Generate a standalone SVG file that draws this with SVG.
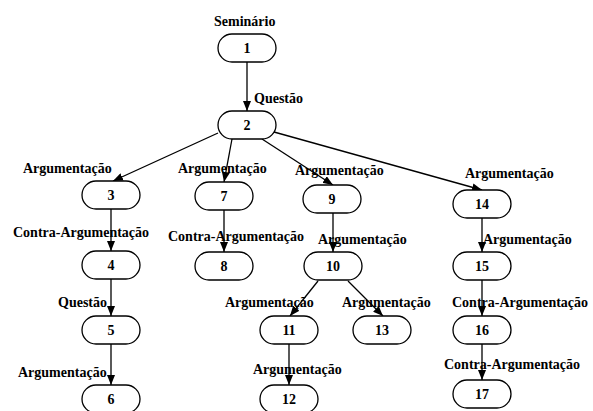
<svg xmlns="http://www.w3.org/2000/svg" width="593" height="411" viewBox="0 0 593 411">
<style>
.n rect{fill:#fff;stroke:#000;stroke-width:1.3}
text{font-family:"Liberation Serif","Times New Roman",serif;font-weight:bold;font-size:14px;fill:#000}
.c{text-anchor:middle}
.e line{stroke:#000;stroke-width:1.3;marker-end:url(#ah)}
</style>
<defs>
<marker id="ah" viewBox="0 0 10 8" refX="10" refY="4" markerWidth="10" markerHeight="8" markerUnits="userSpaceOnUse" orient="auto">
<path d="M0,0 L10,4 L0,8 Z" fill="#000"/>
</marker>
</defs>
<rect width="593" height="411" fill="#fff"/>
<g class="e" id="connectors">
<line x1="247" y1="62" x2="247" y2="111"/>
<line x1="218" y1="133" x2="113" y2="181"/>
<line x1="232" y1="139" x2="224" y2="182"/>
<line x1="262" y1="139" x2="333" y2="185"/>
<line x1="274" y1="132" x2="482" y2="190"/>
<line x1="111" y1="209" x2="111" y2="251"/>
<line x1="224" y1="210" x2="224" y2="252"/>
<line x1="333" y1="213" x2="333" y2="252"/>
<line x1="482" y1="218" x2="482" y2="252"/>
<line x1="111" y1="279" x2="111" y2="316"/>
<line x1="318" y1="281" x2="290" y2="316"/>
<line x1="348" y1="281" x2="383" y2="316"/>
<line x1="482" y1="280" x2="482" y2="316"/>
<line x1="111" y1="344" x2="111" y2="385"/>
<line x1="289" y1="344" x2="289" y2="385"/>
<line x1="482" y1="344" x2="482" y2="380"/>
</g>
<g id="edge-labels">
<text x="214" y="26">Seminário</text>
<text x="254" y="103">Questão</text>
<text x="23" y="173">Argumentação</text>
<text x="178" y="173">Argumentação</text>
<text x="295" y="175">Argumentação</text>
<text x="465" y="178">Argumentação</text>
<text x="13" y="237">Contra-Argumentação</text>
<text x="168" y="241">Contra-Argumentação</text>
<text x="318" y="244">Argumentação</text>
<text x="483" y="244">Argumentação</text>
<text x="58" y="307">Questão</text>
<text x="225" y="307">Argumentação</text>
<text x="342" y="307">Argumentação</text>
<text x="452" y="307">Contra-Argumentação</text>
<text x="18" y="377">Argumentação</text>
<text x="253" y="374">Argumentação</text>
<text x="444" y="369">Contra-Argumentação</text>
</g>
<g class="n" id="n1"><rect x="218" y="34" width="58" height="28" rx="14"/><text class="c" x="247" y="53">1</text></g>
<g class="n" id="n2"><rect x="218" y="111" width="58" height="28" rx="14"/><text class="c" x="247" y="130">2</text></g>
<g class="n" id="n3"><rect x="82" y="181" width="58" height="28" rx="14"/><text class="c" x="111" y="200">3</text></g>
<g class="n" id="n7"><rect x="195" y="182" width="58" height="28" rx="14"/><text class="c" x="224" y="201">7</text></g>
<g class="n" id="n9"><rect x="303" y="185" width="58" height="28" rx="14"/><text class="c" x="332" y="204">9</text></g>
<g class="n" id="n14"><rect x="453" y="190" width="58" height="28" rx="14"/><text class="c" x="482" y="209">14</text></g>
<g class="n" id="n4"><rect x="82" y="251" width="58" height="28" rx="14"/><text class="c" x="111" y="270">4</text></g>
<g class="n" id="n8"><rect x="195" y="252" width="58" height="28" rx="14"/><text class="c" x="224" y="271">8</text></g>
<g class="n" id="n10"><rect x="304" y="252" width="58" height="28" rx="14"/><text class="c" x="333" y="271">10</text></g>
<g class="n" id="n15"><rect x="453" y="252" width="58" height="28" rx="14"/><text class="c" x="482" y="271">15</text></g>
<g class="n" id="n5"><rect x="82" y="316" width="58" height="28" rx="14"/><text class="c" x="111" y="335">5</text></g>
<g class="n" id="n11"><rect x="260" y="316" width="58" height="28" rx="14"/><text class="c" x="289" y="335">11</text></g>
<g class="n" id="n13"><rect x="353" y="316" width="58" height="28" rx="14"/><text class="c" x="382" y="335">13</text></g>
<g class="n" id="n16"><rect x="453" y="316" width="58" height="28" rx="14"/><text class="c" x="482" y="335">16</text></g>
<g class="n" id="n6"><rect x="82" y="385" width="58" height="28" rx="14"/><text class="c" x="111" y="404">6</text></g>
<g class="n" id="n12"><rect x="260" y="385" width="58" height="28" rx="14"/><text class="c" x="289" y="404">12</text></g>
<g class="n" id="n17"><rect x="453" y="380" width="58" height="28" rx="14"/><text class="c" x="482" y="399">17</text></g>
</svg>
